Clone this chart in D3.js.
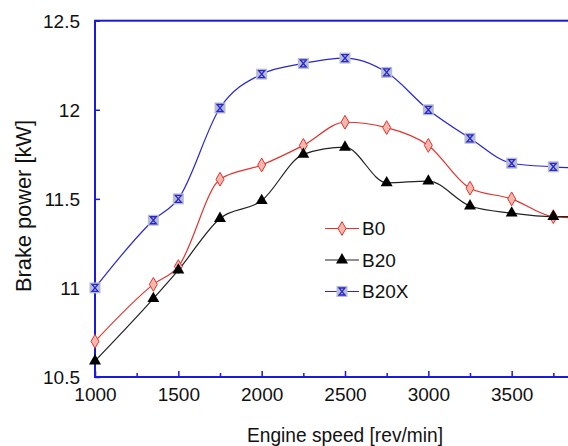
<!DOCTYPE html>
<html>
<head>
<meta charset="utf-8">
<script src="https://cdn.jsdelivr.net/npm/d3@7"></script>
<style>
	body { margin: 0; background: #fff; }
	svg { display: block; font-family: "Liberation Sans", Arial, sans-serif; }
</style>
</head>
<body>
<svg id="chart" width="568" height="446"></svg>
<script>
// engine speed [rev/min]
var speeds = [1000, 1350, 1500, 1750, 2000, 2250, 2500, 2750, 3000, 3250, 3500, 3750, 4000];
// brake power [kW]
var b0   = [10.70, 11.02, 11.12, 11.61, 11.69, 11.80, 11.93, 11.90, 11.80, 11.56, 11.50, 11.40, 11.39];
var b20  = [10.59, 10.94, 11.10, 11.39, 11.49, 11.75, 11.79, 11.59, 11.60, 11.46, 11.42, 11.40, 11.40];
var b20x = [11.00, 11.38, 11.50, 12.01, 12.20, 12.26, 12.29, 12.21, 12.00, 11.84, 11.70, 11.68, 11.67];
var seriesNames = ["B0", "B20", "B20X"];
// 4000 sits past the cropped right edge, so its label is left out
var xTickLabels = [1000, 1500, 2000, 2500, 3000, 3500];
var yTicks = [10.5, 11, 11.5, 12, 12.5];

var AXIS_BLUE = "#1a1ad8";
var FONT = 19;

var svg = d3.select("#chart");

var x = d3.scaleLinear().domain([1000, 4000]).range([95, 595]);
var y = d3.scaleLinear().domain([10.5, 12.5]).range([377, 20.7]);

var series = [
	{name: seriesNames[0], values: b0, color: "#e3322e", marker: "diamond"},
	{name: seriesNames[1], values: b20, color: "#222222", marker: "triangle"},
	{name: seriesNames[2], values: b20x, color: "#2626d6", marker: "box"}
];

// axes (ticks drawn inward)
var xAxis = d3.axisBottom(x)
	.tickValues(d3.range(1000, 4001, 250))
	.tickSize(-6)
	.tickFormat(function(d) { return xTickLabels.indexOf(d) >= 0 ? d : ""; });
var gx = svg.append("g")
	.attr("transform", "translate(0," + y(10.5) + ")")
	.call(xAxis);
gx.selectAll(".tick line")
	.attr("y2", function(d) { return d % 500 === 0 ? -6 : -4; });
gx.selectAll(".tick text")
	.attr("y", 24)
	.attr("dy", 0)
	.attr("font-size", FONT)
	.attr("font-family", "Liberation Sans, Arial, sans-serif")
	.attr("fill", "#111");

var yAxis = d3.axisLeft(y)
	.tickValues(yTicks)
	.tickSize(-5)
	.tickFormat(function(d) { return d; });
var gy = svg.append("g")
	.attr("transform", "translate(" + x(1000) + ",0)")
	.call(yAxis);
gy.selectAll(".tick text")
	.attr("x", -15)
	.attr("dy", "0.35em")
	.attr("font-size", FONT)
	.attr("font-family", "Liberation Sans, Arial, sans-serif")
	.attr("fill", "#111");

svg.selectAll(".domain").remove();
svg.selectAll(".tick line")
	.attr("stroke", AXIS_BLUE)
	.attr("stroke-width", 1.5);

// frame
svg.append("rect")
	.attr("x", x(1000))
	.attr("y", y(12.5))
	.attr("width", x(4000) - x(1000))
	.attr("height", y(10.5) - y(12.5))
	.attr("fill", "none")
	.attr("stroke", AXIS_BLUE)
	.attr("stroke-width", 2);

// lines
var line = d3.line()
	.x(function(d, i) { return x(speeds[i]); })
	.y(function(d) { return y(d); })
	.curve(d3.curveMonotoneX);

svg.selectAll(".series-line")
	.data(series)
	.enter()
	.append("path")
	.attr("class", "series-line")
	.attr("fill", "none")
	.attr("stroke", function(d) { return d.color; })
	.attr("stroke-width", 1.2)
	.attr("d", function(d) { return line(d.values); });

// marker drawing
function drawMarker(g, kind) {
	if (kind == "diamond") {
		g.append("path")
			.attr("d", d3.symbol().type(d3.symbolDiamond).size(55)())
			.attr("fill", "#f2b8ae")
			.attr("stroke", "#e3322e")
			.attr("stroke-width", 1);
	} else if (kind == "triangle") {
		g.append("path")
			.attr("d", d3.symbol().type(d3.symbolTriangle).size(62)())
			.attr("fill", "#000");
	} else {
		g.append("rect")
			.attr("x", -5.5)
			.attr("y", -5.5)
			.attr("width", 11)
			.attr("height", 11)
			.attr("fill", "#b8bccc");
		g.append("path")
			.attr("d", "M-3,-3.5L3,-3.5L-3,3.5L3,3.5Z")
			.attr("fill", "none")
			.attr("stroke", "#2626d6")
			.attr("stroke-width", 1.3);
	}
}

series.forEach(function(s) {
	var pts = svg.append("g").selectAll("g")
		.data(s.values)
		.enter()
		.append("g")
		.attr("transform", function(d, i) {
			return "translate(" + x(speeds[i]) + "," + y(d) + ")";
		});
	pts.each(function() { drawMarker(d3.select(this), s.marker); });
});

// legend
var legend = svg.append("g")
	.selectAll("g")
	.data(series)
	.enter()
	.append("g")
	.attr("transform", function(d, i) {
		return "translate(325," + (228.5 + i * 31.5) + ")";
	});
legend.append("line")
	.attr("x1", 0)
	.attr("x2", 34)
	.attr("stroke", function(d) { return d.color; })
	.attr("stroke-width", 1.2);
legend.each(function(d) {
	var m = d3.select(this).append("g").attr("transform", "translate(17,0)");
	drawMarker(m, d.marker);
});
legend.append("text")
	.attr("x", 37)
	.attr("dy", "0.36em")
	.attr("font-size", FONT)
	.attr("fill", "#111")
	.text(function(d) { return d.name; });

// axis titles
svg.append("text")
	.attr("x", 345)
	.attr("y", 442)
	.attr("text-anchor", "middle")
	.attr("font-size", 21)
	.attr("textLength", 196)
	.attr("lengthAdjust", "spacingAndGlyphs")
	.attr("fill", "#111")
	.text("Engine speed [rev/min]");

svg.append("text")
	.attr("transform", "translate(31,206) rotate(-90)")
	.attr("text-anchor", "middle")
	.attr("font-size", 22)
	.attr("textLength", 172)
	.attr("lengthAdjust", "spacingAndGlyphs")
	.attr("fill", "#111")
	.text("Brake power [kW]");
</script>
</body>
</html>
